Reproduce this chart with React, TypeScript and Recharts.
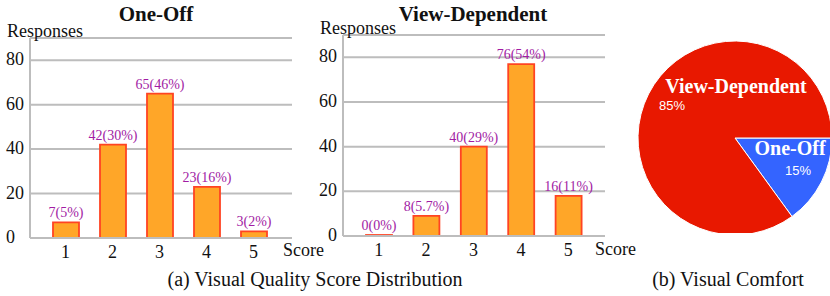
import React from "react";
import { Bar, BarChart, CartesianGrid, Cell, Label, LabelList, Pie, PieChart, XAxis, YAxis } from "recharts";

const SCORES = ["1", "2", "3", "4", "5"];
const ONE_OFF_COUNTS = [7, 42, 65, 23, 3];
const ONE_OFF_LABELS = ["7(5%)", "42(30%)", "65(46%)", "23(16%)", "3(2%)"];
const VIEW_DEP_COUNTS = [0, 9, 40, 77, 18];
const VIEW_DEP_LABELS = ["0(0%)", "8(5.7%)", "40(29%)", "76(54%)", "16(11%)"];
const Y_TICKS = [0, 20, 40, 60, 80];

const COMFORT_METHODS = ["One-Off", "View-Dependent"];
const COMFORT_SHARES = [15, 85];

const SERIF = "'Liberation Serif', 'Times New Roman', serif";
const SANS = "'Liberation Sans', Arial, sans-serif";

const COLORS = {
    grid: "#bdbdbd",
    barFill: "#ffa628",
    barStroke: "#ff4423",
    label: "#a21ca4",
    text: "#111",
    comfort: ["#3464ff", "#e81800"],
};

type ScoreChartProps = {
    counts: number[];
    labels: string[];
    left: number;
    marginTop: number;
    axisHeight: number;
    tickAnchor: "start" | "end";
    tickX: number;
    scoreDx: number;
    scoreDy: number;
    padding: { left: number; right: number };
};

function ScoreChart(props: ScoreChartProps) {
    const data = SCORES.map((score, i) => ({ score, count: props.counts[i], label: props.labels[i] }));

    return (
        <div style={{ position: "absolute", left: props.left, top: 0 }}>
            <BarChart width={340} height={270} data={data} margin={{ top: props.marginTop, right: 48, bottom: 0, left: 0 }}>
                <CartesianGrid vertical={false} stroke={COLORS.grid} strokeWidth={2} />
                <XAxis
                    dataKey="score"
                    height={props.axisHeight}
                    padding={props.padding}
                    axisLine={{ stroke: COLORS.grid, strokeWidth: 2 }}
                    tickLine={false}
                    interval={0}
                    tick={(p: any) => (
                        <text x={p.x} y={p.y + 12} textAnchor="middle" fontSize={18} fontFamily={SERIF} fill={COLORS.text}>
                            {p.payload.value}
                        </text>
                    )}
                >
                    <Label
                        content={(p: any) => (
                            <text
                                x={p.viewBox.x + p.viewBox.width + props.scoreDx}
                                y={p.viewBox.y + props.scoreDy}
                                fontSize={18}
                                fontFamily={SERIF}
                                fill={COLORS.text}
                            >
                                Score
                            </text>
                        )}
                    />
                </XAxis>
                <YAxis
                    width={30}
                    domain={[0, 90]}
                    ticks={Y_TICKS}
                    axisLine={{ stroke: COLORS.grid, strokeWidth: 2 }}
                    tickLine={false}
                    tick={(p: any) => (
                        <text
                            x={props.tickX}
                            y={p.y + 5}
                            textAnchor={props.tickAnchor}
                            fontSize={18}
                            fontFamily={SERIF}
                            fill={COLORS.text}
                        >
                            {p.payload.value}
                        </text>
                    )}
                >
                    <Label
                        content={(p: any) => (
                            <text x={7} y={p.viewBox.y - 1} fontSize={18} fontFamily={SERIF} fill={COLORS.text}>
                                Responses
                            </text>
                        )}
                    />
                </YAxis>
                <Bar
                    dataKey="count"
                    fill={COLORS.barFill}
                    stroke={COLORS.barStroke}
                    strokeWidth={1.8}
                    barSize={26}
                    minPointSize={1}
                    isAnimationActive={false}
                >
                    <LabelList dataKey="label" position="top" offset={5} fill={COLORS.label} fontSize={14} fontFamily={SERIF} />
                </Bar>
            </BarChart>
        </div>
    );
}

function renderComfortLabel(p: any) {
    const { cx, cy, index } = p;
    const name = COMFORT_METHODS[index];
    const pct = `${COMFORT_SHARES[index]}%`;
    // hand-placed like the original figure
    const nameAt = index === 0 ? { x: cx + 55, y: cy + 17 } : { x: cx + 1, y: cy - 45 };
    const pctAt = index === 0 ? { x: cx + 63, y: cy + 37, anchor: "middle" } : { x: cx - 76, y: cy - 28, anchor: "start" };
    return (
        <g>
            <text x={nameAt.x} y={nameAt.y} textAnchor="middle" fontSize={20} fontWeight="bold" fontFamily={SERIF} fill="#fff">
                {name}
            </text>
            <text x={pctAt.x} y={pctAt.y} textAnchor={pctAt.anchor as any} fontSize={13} fontFamily={SANS} fill="#fff">
                {pct}
            </text>
        </g>
    );
}

function Caption({ text, center, top, bold }: { text: string; center: number; top: number; bold?: boolean }) {
    return (
        <div
            style={{
                position: "absolute",
                left: center - 200,
                width: 400,
                top,
                textAlign: "center",
                fontSize: bold ? 21 : 20,
                lineHeight: "20px",
                fontWeight: bold ? "bold" : "normal",
                fontFamily: SERIF,
                color: COLORS.text,
                whiteSpace: "nowrap",
            }}
        >
            {text}
        </div>
    );
}

export default function App() {
    const comfortData = COMFORT_METHODS.map((method, i) => ({ method, share: COMFORT_SHARES[i] }));

    return (
        <div style={{ position: "absolute", left: 0, top: 0, width: 830, height: 296, background: "#fff", overflow: "hidden" }}>
            <ScoreChart
                counts={ONE_OFF_COUNTS}
                labels={ONE_OFF_LABELS}
                left={0}
                marginTop={38}
                axisHeight={32}
                tickAnchor="start"
                tickX={6}
                scoreDx={-9}
                scoreDy={18}
                padding={{ left: 12, right: 15 }}
            />
            <ScoreChart
                counts={VIEW_DEP_COUNTS}
                labels={VIEW_DEP_LABELS}
                left={313}
                marginTop={35}
                axisHeight={34}
                tickAnchor="end"
                tickX={24}
                scoreDx={-10}
                scoreDy={19}
                padding={{ left: 12, right: 13 }}
            />

            <div style={{ position: "absolute", left: 630, top: 33 }}>
                <PieChart width={200} height={200}>
                    <Pie
                        data={comfortData}
                        dataKey="share"
                        nameKey="method"
                        cx={100}
                        cy={100}
                        outerRadius={97}
                        startAngle={0}
                        endAngle={-360}
                        stroke="#fff"
                        strokeWidth={1}
                        label={renderComfortLabel}
                        labelLine={false}
                        isAnimationActive={false}
                    >
                        {comfortData.map((d, i) => (
                            <Cell key={d.method} fill={COLORS.comfort[i]} />
                        ))}
                    </Pie>
                </PieChart>
            </div>

            <Caption text="One-Off" center={156} top={4} bold />
            <Caption text="View-Dependent" center={473} top={4} bold />
            <Caption text="(a) Visual Quality Score Distribution" center={315} top={269} />
            <Caption text="(b) Visual Comfort" center={728} top={269} />
        </div>
    );
}
